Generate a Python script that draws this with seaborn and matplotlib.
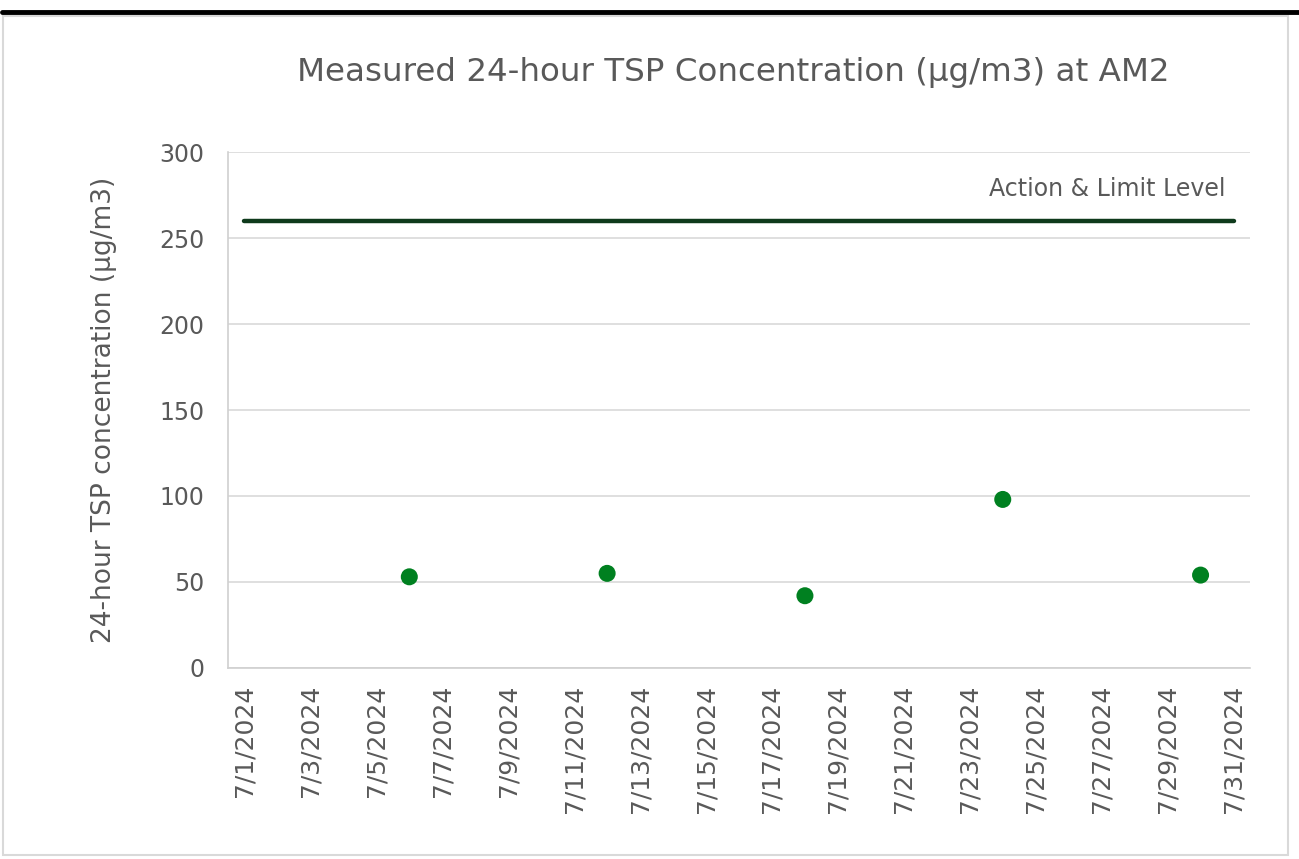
import matplotlib
matplotlib.use("Agg")
import matplotlib.pyplot as plt
from matplotlib.patches import Rectangle
from matplotlib.lines import Line2D
import seaborn as sns
import pandas as pd

# ---- data ----
sample_dates = ["2024-07-06", "2024-07-12", "2024-07-18", "2024-07-24", "2024-07-30"]
tsp_values = [53, 55, 42, 98, 54]
limit_dates = ["2024-07-01", "2024-07-31"]
limit_values = [260, 260]
limit_label = "Action & Limit Level"
title = "Measured 24-hour TSP Concentration (µg/m3) at AM2"
ylabel = "24-hour TSP concentration (µg/m3)"
y_ticks = [0, 50, 100, 150, 200, 250, 300]

sns.set_theme(style="white")
plt.rcParams['font.family'] = ['DejaVu Sans']

df = pd.DataFrame({"date": pd.to_datetime(sample_dates), "tsp": tsp_values})
lim = pd.DataFrame({"date": pd.to_datetime(limit_dates), "val": limit_values})

fig = plt.figure(figsize=(12.99, 8.59), dpi=100)
ax = fig.add_axes([0.1755, 0.2224, 0.9623 - 0.1755, 0.823 - 0.2224])

text_color = "#595959"

sns.lineplot(data=lim, x="date", y="val", ax=ax, color="#0f3a1c", linewidth=3.2,
             solid_capstyle="round")
sns.scatterplot(data=df, x="date", y="tsp", ax=ax, color="#008020", s=150,
                edgecolor="none", zorder=5)

ax.set_ylim(0, 300)
ax.set_yticks(y_ticks)
x0 = pd.Timestamp("2024-07-01") - pd.Timedelta(hours=12)
x1 = pd.Timestamp("2024-07-31") + pd.Timedelta(hours=12)
ax.set_xlim(x0, x1)
xt = pd.date_range("2024-07-01", "2024-07-31", freq="2D")
ax.set_xticks(xt)
ax.set_xticklabels([f"{d.month}/{d.day}/{d.year}" for d in xt], rotation=90)

ax.grid(axis="y", color="#d9d9d9", linewidth=1.2)
ax.grid(axis="x", visible=False)
for s in ["top", "right"]:
    ax.spines[s].set_visible(False)
for s in ["left", "bottom"]:
    ax.spines[s].set_color("#d0d0d0")
    ax.spines[s].set_linewidth(1.2)

ax.tick_params(axis="y", length=0, labelsize=17, labelcolor=text_color, pad=17)
ax.tick_params(axis="x", length=0, labelsize=18, labelcolor=text_color, pad=12)

ax.set_xlabel("")
ax.set_ylabel(ylabel, fontsize=19, color=text_color)
ax.yaxis.set_label_coords(-0.109, 0.5)

ax.text(pd.Timestamp("2024-07-31") - pd.Timedelta(hours=6), 278.5, limit_label,
        ha="right", va="center", fontsize=17, color=text_color)

fig.text(733 / 1299, 1 - 73 / 859, title, ha="center", va="center",
         fontsize=23.4, color=text_color)

# frame and top band
fig.add_artist(Rectangle((3 / 1299, 1 - 855 / 859), (1288 - 3) / 1299, (855 - 16) / 859,
                         transform=fig.transFigure, fill=False,
                         edgecolor="#d9d9d9", linewidth=1.5))
fig.add_artist(Line2D([2 / 1299, 1.0], [1 - 12 / 859, 1 - 12 / 859],
                      transform=fig.transFigure, color="black", linewidth=3.5))

fig.savefig("out.png", dpi=100)
